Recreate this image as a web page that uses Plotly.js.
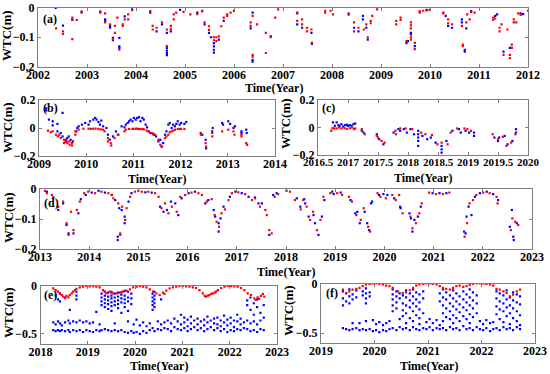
<!DOCTYPE html>
<html><head><meta charset="utf-8">
<script src="https://cdn.plot.ly/plotly-3.0.1.min.js"></script>
<style>html,body{margin:0;padding:0;background:#fff}#chart{width:550px;height:374px}</style>
</head><body><div id="chart"></div>
<script>
// ---- data: each entry is [year, wtc values (m)...] ----
const A_RED = [[2002.37,-0.07],[2002.51,-0.08,-0.089],[2002.70,-0.034,-0.04,-0.106],[2002.79,-0.042],[2002.89,-0.017],[2003.27,-0.017],[2003.37,-0.02,-0.05],[2003.47,-0.057],[2003.53,-0.106],[2003.57,-0.062,-0.085],[2003.62,-0.034],[2003.66,-0.142],[2003.73,-0.057,-0.062],[2003.77,-0.04],[2003.84,-0.023,-0.04],[2003.92,-0.009],[2004.29,-0.012],[2004.34,-0.062,-0.074],[2004.42,-0.068],[2004.53,-0.05],[2004.63,-0.074,-0.13],[2004.71,-0.062,-0.072],[2004.77,-0.023,-0.04],[2004.82,-0.017],[2004.97,-0.015],[2005.11,-0.023],[2005.25,-0.022],[2005.35,-0.013],[2005.4,-0.05],[2005.49,-0.063,-0.075],[2005.59,-0.1,-0.11],[2005.64,-0.1,-0.113],[2005.69,-0.097],[2005.74,-0.063],[2005.79,-0.034],[2005.86,-0.023,-0.028],[2005.93,-0.017],[2006.34,-0.05,-0.062],[2006.38,-0.028,-0.159,-0.165],[2006.47,-0.057],[2006.65,-0.085,-0.153],[2006.75,-0.1],[2006.84,-0.034],
[2006.9,-0.006],[2007.29,-0.017,-0.045],[2007.39,-0.04,-0.057],[2007.49,-0.068,-0.08],[2007.58,-0.074],[2007.59,-0.118],[2007.86,-0.011,-0.017],[2007.97,-0.011],[2008.02,-0.023],[2008.34,-0.02],[2008.45,-0.05,-0.08],[2008.54,-0.068],[2008.65,-0.074],[2008.70,-0.057],[2008.73,-0.1],[2008.79,-0.045,-0.053],[2008.82,-0.028],[2008.92,-0.006],[2009.31,-0.045,-0.057],[2009.40,-0.034,-0.042],[2009.52,-0.113],[2009.61,-0.05,-0.06,-0.07,-0.1,-0.108],[2009.69,-0.119,-0.14],[2009.79,-0.012,-0.017],[2009.86,-0.011],[2009.93,-0.01],[2009.99,-0.008],[2010.27,-0.017,-0.02],[2010.37,-0.04,-0.053],[2010.45,-0.057],[2010.67,-0.125,-0.13],[2010.65,-0.062],[2010.74,-0.05],[2010.76,-0.023],[2010.81,-0.04],[2010.84,-0.015],[2010.91,-0.017],[2011.29,-0.034,-0.042],[2011.33,-0.037],[2011.42,-0.068,-0.08],[2011.46,-0.057],[2011.5,-0.159],[2011.58,-0.074],[2011.63,-0.159,-0.17],[2011.67,-0.125,-0.136],[2011.71,-0.04,-0.05],[2011.76,-0.05],[2011.8,-0.02],[2011.85,-0.025],[2012.0,-0.011]];
const A_BLUE = [[2002.36,-0.001],[2002.51,-0.061],[2002.70,-0.042],[2002.89,-0.014],[2003.27,-0.014],[2003.37,-0.04,-0.045],[2003.47,-0.062,-0.068],[2003.53,-0.102,-0.11],[2003.66,-0.102,-0.131,-0.136],[2003.77,-0.03],[2003.92,-0.006],[2004.29,-0.017],[2004.42,-0.08],[2004.53,-0.057],[2004.63,-0.085,-0.136,-0.145,-0.153,-0.16],[2004.71,-0.08],[2004.9,-0.008],[2005.25,-0.017],[2005.35,-0.011],[2005.4,-0.057],[2005.49,-0.085],[2005.53,-0.1],[2005.59,-0.12,-0.131,-0.142,-0.152],[2005.69,-0.108],[2005.79,-0.045],[2006.0,-0.011],[2006.34,-0.07],[2006.38,-0.017,-0.176,-0.182],[2006.75,-0.097],
[2007.29,-0.02,-0.057],[2007.39,-0.068],[2007.58,-0.085],[2007.59,-0.122],[2008.34,-0.023],[2008.45,-0.068],[2008.54,-0.08],[2008.63,-0.028,-0.04],[2008.70,-0.068],[2008.73,-0.108],[2009.52,-0.12],[2009.55,-0.113],[2009.61,-0.085,-0.09],[2009.69,-0.13],[2009.93,-0.008],[2010.32,-0.028],[2010.37,-0.062],[2010.45,-0.068],[2010.65,-0.04,-0.05],[2010.71,-0.142,-0.148],[2010.74,-0.07],[2010.84,-0.012],[2011.33,-0.028],[2011.37,-0.023],[2011.5,-0.148],[2011.63,-0.136],[2011.85,-0.02],[2011.9,-0.022]];

const B_RED = [[2009.19,-0.019],[2009.25,-0.03],[2009.29,-0.024],[2009.36,-0.048],[2009.4,-0.06],[2009.43,-0.048],[2009.46,-0.072],[2009.53,-0.084,-0.108],[2009.56,-0.1],[2009.6,-0.108,-0.096],[2009.65,-0.096,-0.12],[2009.7,-0.108,-0.125],[2009.77,-0.048,-0.024],[2009.84,-0.012],[2009.94,-0.005],[2010.05,-0.005],[2010.1,-0.006],[2010.15,-0.005],[2010.2,-0.004],[2010.26,-0.007],[2010.31,-0.01],[2010.36,-0.012],[2010.39,-0.024],[2010.46,-0.072,-0.096],[2010.52,-0.108],[2010.53,-0.125],[2010.6,-0.072],[2010.67,-0.048],[2010.81,-0.024],[2010.84,-0.012],[2010.91,-0.007],[2010.98,-0.007],[2011.0,-0.006],[2011.05,-0.005],[2011.08,-0.005],[2011.12,-0.007],[2011.15,-0.008],[2011.19,-0.007],[2011.22,-0.01],[2011.28,-0.018],[2011.32,-0.024],[2011.39,-0.036],[2011.42,-0.04],[2011.46,-0.048],[2011.53,-0.084],[2011.57,-0.12],[2011.6,-0.133],[2011.67,-0.072],[2011.7,-0.06],[2011.74,-0.048],[2011.77,-0.03],[2011.81,-0.024],[2011.85,-0.018],[2011.88,-0.012],[2011.94,-0.007],[2011.98,-0.006],[2012.01,-0.007],[2012.08,-0.007],[2012.43,-0.036,-0.048],[2012.53,-0.108],[2012.54,-0.133],[2012.67,-0.036,-0.06],[2012.88,-0.024],[2013.01,-0.012],[2013.12,-0.024],[2013.14,-0.048],[2013.29,-0.048,-0.06],[2013.39,-0.108],[2013.41,-0.12]];
const B_BLUE = [[2009.15,0.14,0.125],[2009.21,0.06],[2009.29,0.019,0.048],[2009.39,0.029,-0.024],[2009.5,0.108,-0.06],[2009.46,-0.036],[2009.57,-0.084],[2009.6,-0.072],[2009.63,-0.06],[2009.67,-0.084],[2009.72,-0.096],[2009.79,-0.024],[2009.81,0.0],[2009.84,0.012],[2009.91,0.024],[2009.98,0.036],[2010.05,0.024],[2010.08,0.048],[2010.15,0.06],[2010.19,0.072],[2010.22,0.06],[2010.26,0.043],[2010.29,0.024],[2010.32,0.053],[2010.36,0.012],[2010.43,0.0],[2010.46,-0.048],[2010.5,-0.084],[2010.57,-0.06],[2010.63,-0.024],[2010.68,-0.048],[2010.75,0.012],[2010.81,0.005],[2010.84,0.024],[2010.88,0.036],[2010.91,0.048],[2010.94,0.06],[2010.98,0.048],[2011.01,0.072],[2011.05,0.06],[2011.08,0.072],[2011.12,0.077],[2011.15,0.048],[2011.19,0.072],[2011.22,0.06],[2011.26,0.024],[2011.29,0.005],[2011.32,-0.024],[2011.36,-0.036],[2011.43,-0.048],[2011.48,-0.06],[2011.53,-0.096],[2011.57,-0.084],[2011.6,-0.133],[2011.63,-0.108],[2011.67,-0.048],[2011.7,-0.024],[2011.74,0.024],[2011.77,0.036],[2011.81,0.0],[2011.84,0.024],[2011.88,0.012],[2011.91,0.029],[2011.94,0.048],[2011.98,0.024],[2012.01,0.036],[2012.08,0.029],[2012.12,0.043],[2012.43,-0.036],[2012.46,-0.048],[2012.53,-0.084],[2012.54,-0.145],[2012.67,-0.024],[2012.68,0.0],[2012.88,0.036],[2012.9,0.024],[2013.01,0.048],[2013.05,0.029],[2013.12,0.0],[2013.15,0.012],[2013.29,-0.024,-0.036],[2013.39,-0.012],[2013.4,-0.036]];

const C_RED = [[2016.72,-0.024],[2016.74,-0.005],[2016.77,-0.007],[2016.81,-0.007],[2016.85,0.0],[2016.89,-0.007],[2016.94,-0.005],[2016.98,-0.01],[2017.03,-0.005],[2017.07,0.0],[2017.1,-0.012],[2017.12,-0.007],[2017.23,-0.012],[2017.28,-0.049],[2017.48,-0.061],[2017.5,-0.073],[2017.56,-0.098],[2017.61,-0.11],[2017.79,-0.024],[2017.8,-0.049],[2017.87,-0.007],[2017.96,-0.007],[2018.07,-0.012],[2018.22,-0.037],[2018.29,-0.049],[2018.4,-0.054],[2018.49,-0.122],[2018.56,-0.11],[2018.66,-0.122],[2018.71,-0.037],[2018.82,-0.007],[2018.94,-0.007],[2018.99,-0.012],[2019.05,-0.024],[2019.41,-0.049],[2019.5,-0.085],[2019.58,-0.068],[2019.64,-0.134],[2019.72,-0.11],[2019.79,-0.049]];
const C_BLUE = [[2016.75,0.037],[2016.78,0.012],[2016.81,0.037],[2016.84,0.017],[2016.86,0.012],[2016.89,0.024],[2016.92,0.007],[2016.95,0.017],[2016.98,0.02],[2017.0,0.012],[2017.03,0.017],[2017.06,0.012],[2017.09,0.024],[2017.12,0.029],[2017.23,-0.024],[2017.26,-0.037],[2017.48,-0.049],[2017.52,-0.085],[2017.59,-0.122],[2017.76,-0.037],[2017.84,-0.012],[2017.87,-0.024],[2017.93,-0.012],[2017.98,-0.037],[2018.04,-0.012],[2018.1,-0.049],[2018.17,-0.024,-0.049,-0.073,-0.098,-0.134],[2018.24,-0.061],[2018.32,-0.085],[2018.38,-0.073],[2018.46,-0.11],[2018.56,-0.134,-0.159,-0.183],[2018.64,-0.098],[2018.74,-0.024],[2018.85,-0.012],[2018.88,-0.037],[2018.96,-0.024],[2019.02,-0.037],[2019.1,-0.037,-0.061],[2019.44,-0.073],[2019.5,-0.098],[2019.52,-0.073],[2019.61,-0.061],[2019.66,-0.122],[2019.74,-0.098],[2019.8,-0.012,-0.037]];

const D_RED = [[2013.1,-0.006],[2013.14,-0.014],[2013.24,-0.02],[2013.37,-0.059],[2013.47,-0.042],[2013.54,-0.114],[2013.58,-0.153],[2013.63,-0.076],[2013.68,-0.137],[2013.75,-0.07],[2013.81,-0.042],[2013.9,-0.014],[2013.98,-0.009],[2014.12,-0.014],[2014.25,-0.009],[2014.39,-0.014],[2014.46,-0.02],[2014.49,-0.031],[2014.59,-0.048],[2014.63,-0.153,-0.148],[2014.67,-0.059],[2014.73,-0.103],[2014.76,-0.064],[2014.83,-0.026],[2014.93,-0.009],[2015.07,-0.009],[2015.2,-0.009],[2015.34,-0.014],[2015.41,-0.026],[2015.47,-0.064],[2015.54,-0.048],[2015.61,-0.081],[2015.68,-0.059],[2015.78,-0.076],[2015.85,-0.026],[2015.95,-0.02],[2016.08,-0.012],[2016.22,-0.014],[2016.29,-0.02],[2016.39,-0.042],[2016.49,-0.034],[2016.55,-0.087],[2016.59,-0.109],[2016.64,-0.126],[2016.69,-0.081],[2016.76,-0.068],[2016.83,-0.037],[2016.9,-0.014],[2017.03,-0.011],[2017.17,-0.017],[2017.31,-0.037],[2017.37,-0.031],[2017.47,-0.059],[2017.58,-0.07],[2017.61,-0.087],[2017.66,-0.137],[2017.71,-0.148],[2017.77,-0.026],[2017.84,-0.017],[2018.08,-0.009],[2018.18,-0.037],[2018.3,-0.068],[2018.35,-0.037],[2018.42,-0.059],[2018.49,-0.103],[2018.55,-0.076],[2018.63,-0.137],[2018.7,-0.103],[2018.76,-0.026],[2018.9,-0.014],[2019.04,-0.014],[2019.14,-0.02],[2019.28,-0.026],[2019.34,-0.042],[2019.43,-0.087],[2019.52,-0.103],[2019.58,-0.064],[2019.67,-0.126],[2019.71,-0.142],[2019.86,-0.014],[2019.92,-0.026],[2020.03,-0.031],[2020.16,-0.02],[2020.23,-0.037],[2020.3,-0.02],[2020.37,-0.081],[2020.53,-0.092],[2020.57,-0.131],[2020.64,-0.114],[2020.71,-0.081],[2020.76,-0.048],[2020.91,-0.012],[2021.05,-0.017],[2021.19,-0.017],[2021.32,-0.012],[2021.63,-0.159],[2021.68,-0.114],[2021.73,-0.048],[2021.8,-0.037],[2021.87,-0.02],[2022.01,-0.012],[2022.14,-0.014],[2022.28,-0.026],[2022.3,-0.048],[2022.57,-0.137],[2022.6,-0.098],[2022.66,-0.109],[2022.72,-0.12]];
const D_BLUE = [[2013.14,-0.009],[2013.27,-0.028],[2013.37,-0.07],[2013.47,-0.048],[2013.54,-0.12],[2013.58,-0.148],[2013.68,-0.148],[2013.78,-0.081],[2013.83,-0.034],[2013.93,-0.02],[2014.05,-0.012],[2014.19,-0.006],[2014.32,-0.012],[2014.46,-0.02],[2014.53,-0.037],[2014.58,-0.159,-0.17],[2014.61,-0.064],[2014.66,-0.07],[2014.72,-0.092,-0.114],[2014.8,-0.042],[2014.86,-0.014],[2015.0,-0.006],[2015.14,-0.011],[2015.27,-0.012],[2015.44,-0.059],[2015.51,-0.076],[2015.58,-0.07],[2015.66,-0.042],[2015.75,-0.048],[2015.81,-0.087],[2015.88,-0.031],[2016.02,-0.014],[2016.15,-0.009],[2016.36,-0.048],[2016.42,-0.037],[2016.53,-0.07],[2016.56,-0.092],[2016.63,-0.114,-0.142],[2016.67,-0.098],[2016.73,-0.059],[2016.86,-0.026],[2016.97,-0.009],[2017.1,-0.014],[2017.24,-0.026],[2017.37,-0.028],[2017.44,-0.048],[2017.51,-0.048],[2017.66,-0.153],[2017.74,-0.02],[2017.81,-0.014],[2018.01,-0.006],[2018.22,-0.031],[2018.29,-0.059],[2018.37,-0.034],[2018.39,-0.048],[2018.46,-0.092],[2018.56,-0.087],[2018.59,-0.114],[2018.66,-0.153],[2018.73,-0.092],[2018.78,-0.037],[2018.94,-0.009],[2018.97,-0.017],[2019.11,-0.012],[2019.31,-0.037],[2019.41,-0.081],[2019.45,-0.076],[2019.5,-0.114],[2019.6,-0.076],[2019.65,-0.114],[2019.69,-0.137],[2019.73,-0.048],[2019.75,-0.042],[2019.89,-0.02],[2019.98,-0.017],[2020.06,-0.02],[2020.2,-0.031],[2020.32,-0.059],[2020.33,-0.064],[2020.51,-0.081],[2020.54,-0.098],[2020.57,-0.142],[2020.61,-0.103],[2020.68,-0.092],[2020.74,-0.059],[2020.98,-0.014],[2021.12,-0.014],[2021.26,-0.014],[2021.62,-0.142],[2021.65,-0.148],[2021.67,-0.092],[2021.71,-0.059],[2021.77,-0.087],[2021.84,-0.026],[2021.94,-0.014],[2022.08,-0.009],[2022.21,-0.017],[2022.31,-0.037],[2022.55,-0.126],[2022.59,-0.07],[2022.62,-0.159],[2022.63,-0.17],[2022.69,-0.114]];

const E_RED = [[2018.27,-0.024],[2018.32,-0.042],[2018.37,-0.059],[2018.41,-0.076],[2018.45,-0.094],[2018.48,-0.111],[2018.52,-0.128],[2018.55,-0.104],[2018.59,-0.118],[2018.62,-0.094],[2018.66,-0.076],[2018.69,-0.059],[2018.73,-0.042],[2018.76,-0.03],[2018.83,-0.014],[2018.9,-0.007],[2018.97,0.0],[2019.04,-0.004],[2019.11,-0.002],[2019.18,-0.007],[2019.25,-0.014],[2019.32,-0.042],[2019.36,-0.059],[2019.39,-0.076],[2019.46,-0.059],[2019.5,-0.069],[2019.54,-0.076],[2019.61,-0.076],[2019.68,-0.069],[2019.72,-0.062],[2019.75,-0.059],[2019.82,-0.049],[2019.89,-0.035],[2019.96,-0.014],[2020.03,-0.007],[2020.1,-0.002],[2020.17,-0.007],[2020.24,-0.014],[2020.31,-0.035],[2020.38,-0.059],[2020.45,-0.076],[2020.52,-0.094],[2020.59,-0.069],[2020.62,-0.083],[2020.66,-0.049],[2020.73,-0.024],[2020.8,-0.014],[2020.87,-0.007],[2020.94,-0.002],[2021.01,0.0],[2021.08,-0.004],[2021.15,-0.007],[2021.22,-0.014],[2021.29,-0.021],[2021.36,-0.042],[2021.43,-0.076],[2021.47,-0.104],[2021.5,-0.111],[2021.54,-0.1],[2021.57,-0.094],[2021.61,-0.083],[2021.64,-0.076],[2021.68,-0.069],[2021.71,-0.059],[2021.75,-0.042],[2021.82,-0.021],[2021.89,-0.007],[2021.96,0.0],[2022.03,-0.002],[2022.1,-0.004],[2022.17,-0.007],[2022.24,-0.021],[2022.31,-0.042],[2022.38,-0.076],[2022.45,-0.094],[2022.52,-0.128],[2022.55,-0.146],[2022.59,-0.118],[2022.62,-0.135],[2022.66,-0.104],[2022.7,-0.083],[2022.73,-0.111]];
const E_BLUE = [[2018.27,-0.38,-0.46],[2018.32,-0.40,-0.47,-0.1],[2018.37,-0.37,-0.46,-0.14],[2018.41,-0.39,-0.47,-0.08,-0.16],[2018.45,-0.41,-0.46],[2018.52,-0.38,-0.47,-0.12],[2018.59,-0.36,-0.46],[2018.62,-0.39,-0.48,-0.25],[2018.69,-0.37,-0.46],[2018.76,-0.38,-0.47,-0.06,-0.1,-0.14],[2018.83,-0.36,-0.46],[2018.9,-0.38,-0.48],[2018.97,-0.37,-0.46],[2019.04,-0.39,-0.47],[2019.11,-0.38,-0.48],[2019.18,-0.27,-0.46],[2019.25,-0.4,-0.47],[2019.29,-0.08,-0.12,-0.16,-0.2,-0.46],[2019.36,-0.06,-0.1,-0.14,-0.18,-0.22,-0.45],[2019.43,-0.07,-0.11,-0.15,-0.19,-0.24,-0.46],[2019.5,-0.06,-0.1,-0.13,-0.17,-0.21,-0.26,-0.47],[2019.57,-0.08,-0.12,-0.16,-0.2,-0.39,-0.46],[2019.64,-0.07,-0.11,-0.15,-0.19,-0.23,-0.47],[2019.71,-0.09,-0.13,-0.17,-0.28,-0.46],[2019.78,-0.05,-0.1,-0.14,-0.18,-0.22,-0.48],[2019.85,-0.06,-0.12,-0.16,-0.26,-0.37,-0.49],[2019.92,-0.08,-0.13,-0.19,-0.47],[2019.97,-0.4,-0.49],[2020.03,-0.35,-0.48],[2020.1,-0.41,-0.5],[2020.17,-0.38,-0.47],[2020.24,-0.42,-0.49],[2020.31,-0.39,-0.46],[2020.37,-0.08,-0.12,-0.16,-0.2,-0.25,-0.44],[2020.41,-0.06,-0.1,-0.14,-0.18,-0.22,-0.47],[2020.48,-0.37,-0.45],[2020.55,-0.14,-0.4,-0.46],[2020.62,-0.38,-0.44],[2020.69,-0.36,-0.45],[2020.76,-0.39,-0.47],[2020.83,-0.34,-0.43],[2020.9,-0.37,-0.45],[2020.97,-0.3,-0.4,-0.46],[2021.04,-0.33,-0.38,-0.44],[2021.11,-0.35,-0.42,-0.47],[2021.18,-0.32,-0.39,-0.45],[2021.25,-0.36,-0.43],[2021.32,-0.34,-0.4,-0.46],[2021.39,-0.37,-0.44],[2021.46,-0.35,-0.41,-0.47],[2021.53,-0.32,-0.38,-0.45],[2021.6,-0.36,-0.43],[2021.67,-0.34,-0.39,-0.46],[2021.74,-0.33,-0.4,-0.44],[2021.81,-0.36,-0.42,-0.47],[2021.88,-0.31,-0.38,-0.45],[2021.95,-0.35,-0.41,-0.48],[2022.02,-0.33,-0.39,-0.46],[2022.09,-0.36,-0.43,-0.47],[2022.16,-0.3,-0.37,-0.45],[2022.23,-0.34,-0.4,-0.46],[2022.3,-0.38,-0.44],[2022.37,-0.15,-0.2,-0.36,-0.45],[2022.44,-0.12,-0.25,-0.39,-0.47],[2022.51,-0.18,-0.3,-0.37,-0.46],[2022.58,-0.14,-0.22,-0.4,-0.48],[2022.65,-0.28,-0.36,-0.45],[2022.72,-0.2,-0.33,-0.46]];

const F_RED = [[2019.41,-0.062],[2019.47,-0.096],[2019.53,-0.079],[2019.59,-0.062],[2019.66,-0.055],[2019.72,-0.045],[2019.78,-0.027],[2019.84,-0.01],[2019.91,-0.003],[2019.97,0.0],[2020.03,0.0],[2020.09,-0.003],[2020.16,-0.01],[2020.22,-0.021],[2020.28,-0.027],[2020.34,-0.045],[2020.44,-0.079],[2020.53,-0.096],[2020.59,-0.089],[2020.66,-0.068],[2020.72,-0.045],[2020.78,-0.021],[2020.84,-0.01],[2020.91,-0.003],[2020.97,0.0],[2021.03,0.0],[2021.09,-0.003],[2021.16,-0.01],[2021.22,-0.027],[2021.28,-0.045],[2021.34,-0.055],[2021.41,-0.062],[2021.47,-0.045],[2021.53,-0.027],[2021.59,-0.021],[2021.66,-0.034],[2021.72,-0.027],[2021.78,-0.014],[2021.84,-0.003],[2021.91,0.0],[2021.97,0.0],[2022.03,0.0],[2022.09,-0.003],[2022.16,-0.01],[2022.22,-0.021],[2022.28,-0.055],[2022.34,-0.062],[2022.41,-0.079],[2022.47,-0.096],[2022.53,-0.13],[2022.59,-0.113],[2022.66,-0.079],[2022.72,-0.062]];
const F_BLUE = [[2019.41,-0.08,-0.15,-0.22,-0.45],[2019.47,-0.1,-0.18,-0.46],[2019.53,-0.06,-0.13,-0.2,-0.47],[2019.59,-0.11,-0.16,-0.4,-0.46],[2019.66,-0.07,-0.14,-0.45],[2019.72,-0.4,-0.47],[2019.78,-0.08,-0.12,-0.46],[2019.84,-0.05,-0.1,-0.15,-0.2,-0.38,-0.47],[2019.91,-0.09,-0.13,-0.46],[2019.97,-0.37,-0.48],[2020.03,-0.41,-0.47],[2020.09,-0.39,-0.49],[2020.16,-0.42,-0.47],[2020.22,-0.4,-0.48],[2020.28,-0.38,-0.46],[2020.34,-0.06,-0.11,-0.16,-0.22,-0.28,-0.45],[2020.41,-0.08,-0.13,-0.19,-0.25,-0.47],[2020.47,-0.1,-0.15,-0.36,-0.44],[2020.53,-0.12,-0.2,-0.27,-0.33,-0.46],[2020.59,-0.07,-0.14,-0.22,-0.3,-0.4,-0.45],[2020.66,-0.1,-0.17,-0.24,-0.35,-0.47],[2020.72,-0.06,-0.13,-0.2,-0.28,-0.38,-0.44],[2020.78,-0.09,-0.16,-0.23,-0.32,-0.46],[2020.84,-0.11,-0.19,-0.26,-0.35,-0.41,-0.47],[2020.91,-0.08,-0.15,-0.3,-0.45],[2020.97,-0.39,-0.46],[2021.03,-0.36,-0.44],[2021.09,-0.4,-0.47],[2021.16,-0.37,-0.45],[2021.22,-0.1,-0.18,-0.42,-0.46],[2021.28,-0.06,-0.14,-0.22,-0.3,-0.38,-0.45],[2021.34,-0.09,-0.16,-0.25,-0.34,-0.47],[2021.41,-0.12,-0.2,-0.28,-0.36,-0.44],[2021.47,-0.07,-0.15,-0.23,-0.32,-0.4,-0.46],[2021.53,-0.1,-0.18,-0.26,-0.35,-0.45],[2021.59,-0.13,-0.21,-0.29,-0.38,-0.47],[2021.66,-0.08,-0.16,-0.24,-0.33,-0.43],[2021.72,-0.11,-0.19,-0.27,-0.36,-0.46],[2021.78,-0.06,-0.14,-0.22,-0.31,-0.4,-0.45],[2021.84,-0.09,-0.17,-0.25,-0.34,-0.47],[2021.91,-0.12,-0.2,-0.3,-0.44],[2021.97,-0.38,-0.46],[2022.03,-0.41,-0.47],[2022.09,-0.37,-0.45],[2022.16,-0.4,-0.48],[2022.22,-0.39,-0.46],[2022.28,-0.08,-0.15,-0.23,-0.31,-0.45],[2022.34,-0.1,-0.18,-0.26,-0.36,-0.47],[2022.41,-0.12,-0.2,-0.28,-0.39,-0.44],[2022.47,-0.07,-0.16,-0.24,-0.33,-0.46],[2022.53,-0.14,-0.22,-0.3,-0.41,-0.45],[2022.59,-0.09,-0.17,-0.25,-0.35,-0.47],[2022.66,-0.11,-0.19,-0.28,-0.38,-0.44],[2022.72,-0.13,-0.21,-0.32,-0.42,-0.46]];

// ---- tick labels ----
const A_XTICKS = [2002,2003,2004,2005,2006,2007,2008,2009,2010,2011,2012];
const B_XTICKS = [2009,2010,2011,2012,2013,2014];
const C_XTICKS = [2016.5,2017,2017.5,2018,2018.5,2019,2019.5,2020];
const D_XTICKS = [2013,2014,2015,2016,2017,2018,2019,2020,2021,2022,2023];
const E_XTICKS = [2018,2019,2020,2021,2022,2023];
const F_XTICKS = [2019,2020,2021,2022,2023];
const Y_TICKS_02 = [-0.2,-0.1,0], Y_LABELS_02 = ['\u22120.2','\u22120.1','0'];
const Y_TICKS_B = [-0.2,0,0.2], Y_LABELS_B = ['\u22120.2','0','0.2'];
const Y_TICKS_E = [-0.5,0], Y_LABELS_E = ['\u22120.5','0'];
const PANEL_LABELS = ['(a)','(b)','(c)','(d)','(e)','(f)'];

function flat(cl){const x=[],y=[];cl.forEach(c=>{for(let i=1;i<c.length;i++){x.push(c[0]);y.push(c[i]);}});return {x,y};}

const panels = [
  {s:'',  red:A_RED, blue:A_BLUE},
  {s:'2', red:B_RED, blue:B_BLUE},
  {s:'3', red:C_RED, blue:C_BLUE},
  {s:'4', red:D_RED, blue:D_BLUE},
  {s:'5', red:E_RED, blue:E_BLUE},
  {s:'6', red:F_RED, blue:F_BLUE}
];
const traces = [];
panels.forEach(p=>{
  [['blue','#0000ff'],['red','#ff0000']].forEach(([k,c])=>{
    const d = flat(p[k]);
    traces.push({type:'scatter',mode:'markers',x:d.x,y:d.y,xaxis:'x'+p.s,yaxis:'y'+p.s,
      marker:{color:c,size:2.2,symbol:'square',line:{width:0}},showlegend:false,hoverinfo:'skip'});
  });
});

const W=550,H=374;
const FONT='Times New Roman, Liberation Serif, serif';
const mkfont=s=>({family:FONT,size:s,color:'#000',weight:'bold'});
function ax(dom,range,vals,text,isX,fs){
  const o={domain:dom,range:range,showline:true,linecolor:'#7f7f7f',linewidth:1,mirror:'ticks',
    ticks:'inside',ticklen:3,tickcolor:'#7f7f7f',showgrid:false,zeroline:false,tickangle:0,
    tickmode:'array',tickvals:vals,tickfont:mkfont(fs||12),fixedrange:true};
  o.ticktext = text || vals.map(String);
  if(isX) o.ticklabelstandoff = -3;
  return o;
}
const px=v=>v/W, py=v=>1-v/H;
const layout = {
  width:W,height:H,margin:{l:0,r:0,t:0,b:0},paper_bgcolor:'#fff',plot_bgcolor:'#fff',showlegend:false,
  font:{family:FONT},
  xaxis: ax([px(38),px(528)],[2002,2012],A_XTICKS,null,true),
  yaxis: ax([py(67),py(7.5)],[-0.2,0],Y_TICKS_02,Y_LABELS_02),
  xaxis2:ax([px(39),px(275)],[2009,2014],B_XTICKS,null,true),
  yaxis2:ax([py(156),py(100)],[-0.2,0.2],Y_TICKS_B,Y_LABELS_B),
  xaxis3:ax([px(318),px(528)],[2016.5,2020],C_XTICKS,null,true,11),
  yaxis3:ax([py(155),py(100)],[-0.2,0.2],Y_TICKS_B,Y_LABELS_B),
  xaxis4:ax([px(40),px(532)],[2013,2023],D_XTICKS,null,true),
  yaxis4:ax([py(249),py(189)],[-0.2,0],Y_TICKS_02,Y_LABELS_02),
  xaxis5:ax([px(40.5),px(277)],[2018,2023],E_XTICKS,null,true),
  yaxis5:ax([py(343.5),py(286)],[-0.6,0],Y_TICKS_E,Y_LABELS_E),
  xaxis6:ax([px(321),px(535)],[2019,2023],F_XTICKS,null,true),
  yaxis6:ax([py(343),py(283.5)],[-0.6,0],Y_TICKS_E,Y_LABELS_E),
  annotations:[]
};
['','2','3','4','5','6'].forEach(s=>{layout['xaxis'+s].anchor='y'+s;layout['yaxis'+s].anchor='x'+s;});

const ann=(t,x,y,o)=>Object.assign({text:t,x:px(x),y:py(y),xref:'paper',yref:'paper',showarrow:false,
  xanchor:'center',yanchor:'middle',font:mkfont(12)},o||{});
// panel labels
[[41,19],[41,108],[320,108],[42,203],[42,295],[324,293]].forEach((p,i)=>
  layout.annotations.push(ann(PANEL_LABELS[i],p[0],p[1],{xanchor:'left'})));
// x titles
[[274,88],[157,179],[423,178],[286,272],[159,366],[429,366]].forEach(p=>
  layout.annotations.push(ann('Time(Year)',p[0],p[1])));
// y titles
[[7,36],[7,128],[285,124],[8,218],[8,313],[288,311]].forEach(p=>
  layout.annotations.push(ann('WTC(m)',p[0],p[1],{textangle:-90,font:mkfont(13)})));

Plotly.newPlot('chart',traces,layout,{displayModeBar:false,staticPlot:true});
</script></body></html>
